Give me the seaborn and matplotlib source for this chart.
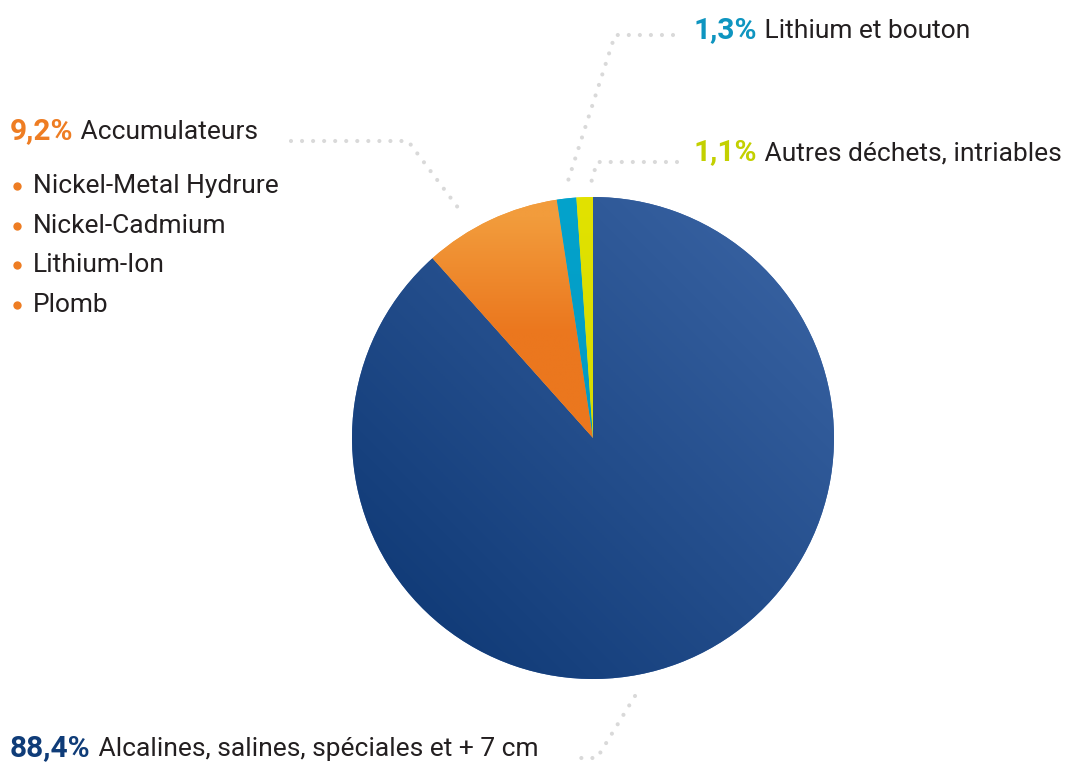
import numpy as np
import matplotlib
matplotlib.use('Agg')
from matplotlib import pyplot as plt
from matplotlib.colors import LinearSegmentedColormap
import seaborn as sns

# data
labels = ['Alcalines, salines, spéciales et + 7 cm', 'Accumulateurs',
          'Lithium et bouton', 'Autres déchets, intriables']
values = [88.4, 9.2, 1.3, 1.1]
pct_colors = ['#0f3c78', '#ee7d23', '#0e95c0', '#c3d000']
sub_items = ['Nickel-Metal Hydrure', 'Nickel-Cadmium', 'Lithium-Ion', 'Plomb']

# gradient ends for each slice (light, dark)
grad = [('#3c66a6', '#0b3571'), ('#f29c3c', '#eb771e'),
        ('#04a3cc', '#0090b8'), ('#e2e200', '#c8d400')]

sns.set_theme(style='white')
plt.rcParams['font.family'] = ['Roboto', 'DejaVu Sans']

W, H = 1069, 762
fig = plt.figure(figsize=(W / 100, H / 100), dpi=100)
ax = fig.add_axes([0, 0, 1, 1])

def Y(y):
    return H - y

cx, cy, r = 593, Y(438), 241
wedges, _ = ax.pie(values, center=(cx, cy), radius=r, startangle=90,
                   counterclock=False, colors=[g[0] for g in grad],
                   wedgeprops=dict(linewidth=0), frame=True)
ax.set_xlim(0, W)
ax.set_ylim(0, H)
ax.set_aspect('equal')
ax.axis('off')

ext = (cx - r, cx + r, cy - r, cy + r)
n = 300
u = np.linspace(0, 1, n)
xx, yy = np.meshgrid(u, u)
for i, w in enumerate(wedges):
    light, dark = grad[i]
    cmap = LinearSegmentedColormap.from_list('g%d' % i, [dark, light])
    if i == 0:
        z = (xx + yy) / 2
    elif i == 1:
        z = np.clip((yy - 0.72) / 0.24, 0, 1)
    else:
        z = yy
    im = ax.imshow(z, cmap=cmap, extent=ext, origin='lower',
                   interpolation='bilinear', zorder=w.get_zorder() + 0.1)
    im.set_clip_path(w)

# leader lines
dot = dict(color='#d9d9d9', lw=3.0, linestyle=(0, (0.001, 2.65)),
           dash_capstyle='round', solid_capstyle='round', zorder=0.5)
ax.plot([291, 408, 462], [Y(141), Y(141), Y(213)], **dot)
ax.plot([673, 615, 567], [Y(35), Y(35), Y(184)], **dot)
ax.plot([677, 597, 591], [Y(162), Y(162), Y(183)], **dot)
ax.plot([635, 597, 573], [Y(696), Y(758), Y(758)], **dot)

fs = 19
fs_pct = 21.5
txt = '#231f20'

def pct(v):
    return ('%.1f' % v).replace('.', ',') + '%'

def label(x, y, i):
    t = ax.text(x, Y(y), pct(values[i]), color=pct_colors[i], fontsize=fs_pct,
                fontweight='bold', va='center', ha='left')
    fig.canvas.draw()
    bb = t.get_window_extent()
    ax.annotate(' ' + labels[i], xy=(bb.x1 + 1, Y(y) - 1), xycoords='figure pixels',
                color=txt, fontsize=fs, va='center', ha='left')

label(10, 131, 1)
label(693, 30, 2)
label(693, 152, 3)
label(10, 748, 0)

for k, s in enumerate(sub_items):
    yk = 186 + k * 39.7
    ax.plot(17, Y(yk), 'o', color=pct_colors[1], ms=6, mew=0)
    ax.text(33, Y(yk), s, color=txt, fontsize=fs, va='center', ha='left')

fig.savefig('out.png', dpi=100)
